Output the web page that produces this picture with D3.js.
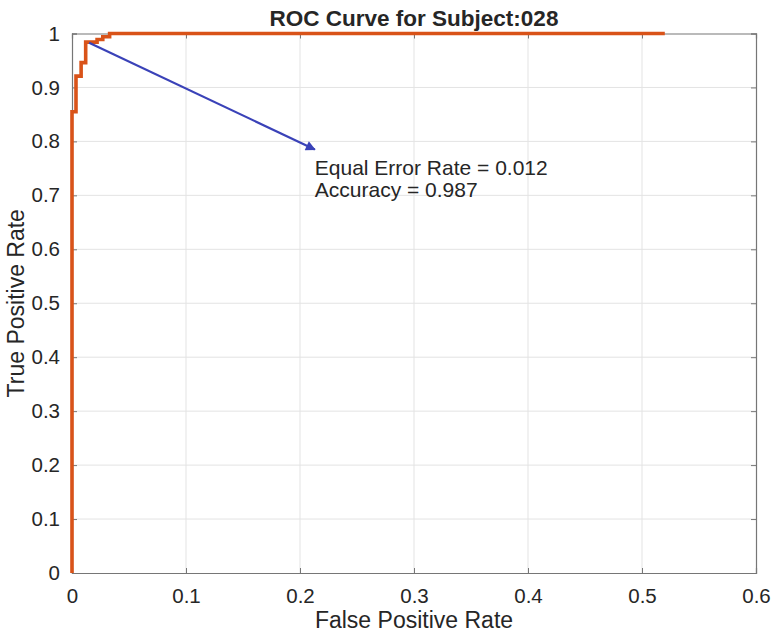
<!DOCTYPE html>
<html>
<head>
<meta charset="utf-8">
<script src="https://cdn.jsdelivr.net/npm/d3@7"></script>
<style>
  body { margin: 0; background: #fff; }
  text { font-family: "Liberation Sans", Arial, Helvetica, sans-serif; fill: #262626; }
</style>
</head>
<body>
<div id="chart"></div>
<script>
// ROC curve points (step shape)
var fpr = [0, 0, 0.0035, 0.0035, 0.008, 0.008, 0.012, 0.012, 0.022, 0.022, 0.027, 0.027, 0.033, 0.033, 0.52]
var tpr = [0, 0.855, 0.855, 0.921, 0.921, 0.946, 0.946, 0.984, 0.984, 0.989, 0.989, 0.994, 0.994, 1, 1]

var xTicks = [0, 0.1, 0.2, 0.3, 0.4, 0.5, 0.6]
var yTicks = [0, 0.1, 0.2, 0.3, 0.4, 0.5, 0.6, 0.7, 0.8, 0.9, 1]

// arrow from the EER point to the annotation
var arrowFrom = [0.015, 0.983]
var arrowTo = [0.213, 0.785]
var notes = ['Equal Error Rate = 0.012', 'Accuracy = 0.987']

var width = 772,
  height = 636
var margin = { left: 72, right: 16, top: 33.5, bottom: 63 }

var x = d3.scaleLinear().domain([0, 0.6]).range([margin.left, width - margin.right])
var y = d3.scaleLinear().domain([0, 1]).range([height - margin.bottom, margin.top])

var svg = d3.select('#chart').append('svg')
  .attr('width', width)
  .attr('height', height)

// grid
svg.append('g').selectAll('line.gx')
  .data(xTicks.slice(1, -1))
  .enter().append('line')
  .attr('x1', d => x(d)).attr('x2', d => x(d))
  .attr('y1', y(0)).attr('y2', y(1))
  .attr('stroke', '#e3e3e3').attr('stroke-width', 1)
svg.append('g').selectAll('line.gy')
  .data(yTicks.slice(1, -1))
  .enter().append('line')
  .attr('x1', x(0)).attr('x2', x(0.6))
  .attr('y1', d => y(d)).attr('y2', d => y(d))
  .attr('stroke', '#e3e3e3').attr('stroke-width', 1)

// axes, ticks pointing inward
var xAxis = svg.append('g')
  .attr('transform', 'translate(0,' + y(0) + ')')
  .call(d3.axisBottom(x).tickValues(xTicks).tickSize(-5).tickPadding(12).tickFormat(d3.format('~g')))
var xTop = svg.append('g')
  .attr('transform', 'translate(0,' + y(1) + ')')
  .call(d3.axisTop(x).tickValues(xTicks).tickSize(-5).tickFormat(''))
var yAxis = svg.append('g')
  .attr('transform', 'translate(' + x(0) + ',0)')
  .call(d3.axisLeft(y).tickValues(yTicks).tickSize(-5).tickPadding(12).tickFormat(d3.format('~g')))
var yRight = svg.append('g')
  .attr('transform', 'translate(' + x(0.6) + ',0)')
  .call(d3.axisRight(y).tickValues(yTicks).tickSize(-5).tickFormat(''))

svg.selectAll('.domain').attr('stroke', '#767676').attr('stroke-width', 1.2)
svg.selectAll('.tick line').attr('stroke', '#767676')
svg.selectAll('.tick text')
  .style('font-size', '20.5px')
  .style('font-family', '"Liberation Sans", Arial, sans-serif')
  .attr('fill', '#262626')
xAxis.selectAll('.tick text').attr('dy', '0.9em')

// ROC curve
var pts = fpr.map((d, i) => [d, tpr[i]])
var line = d3.line().x(d => x(d[0])).y(d => y(d[1]))
svg.append('path')
  .datum(pts)
  .attr('d', line)
  .attr('fill', 'none')
  .attr('stroke', '#D95319')
  .attr('stroke-width', 3.6)
  .attr('stroke-linejoin', 'miter')

// arrow annotation
svg.append('defs').append('marker')
  .attr('id', 'head')
  .attr('viewBox', '0 0 10 10')
  .attr('refX', 9).attr('refY', 5)
  .attr('markerWidth', 6).attr('markerHeight', 4.5)
  .attr('markerUnits', 'strokeWidth')
  .attr('orient', 'auto')
  .append('path')
  .attr('d', 'M0,0 L10,5 L0,10 Z')
  .attr('fill', '#3a42b8')

svg.append('line')
  .attr('x1', x(arrowFrom[0])).attr('y1', y(arrowFrom[1]))
  .attr('x2', x(arrowTo[0])).attr('y2', y(arrowTo[1]))
  .attr('stroke', '#3a42b8')
  .attr('stroke-width', 2.2)
  .attr('marker-end', 'url(#head)')

svg.append('g').selectAll('text')
  .data(notes)
  .enter().append('text')
  .attr('x', x(arrowTo[0]))
  .attr('y', (d, i) => y(arrowTo[1]) + 26 + i * 22)
  .style('font-size', '21px')
  .text(d => d)

// title and labels
svg.append('text')
  .attr('x', (x(0) + x(0.6)) / 2)
  .attr('y', 26)
  .attr('text-anchor', 'middle')
  .style('font-size', '22.5px')
  .style('font-weight', 'bold')
  .attr('fill', '#000')
  .text('ROC Curve for Subject:028')

svg.append('text')
  .attr('x', (x(0) + x(0.6)) / 2)
  .attr('y', 628)
  .attr('text-anchor', 'middle')
  .style('font-size', '23px')
  .text('False Positive Rate')

svg.append('text')
  .attr('transform', 'translate(24,' + (y(0) + y(1)) / 2 + ') rotate(-90)')
  .attr('text-anchor', 'middle')
  .style('font-size', '23px')
  .text('True Positive Rate')
</script>
</body>
</html>
